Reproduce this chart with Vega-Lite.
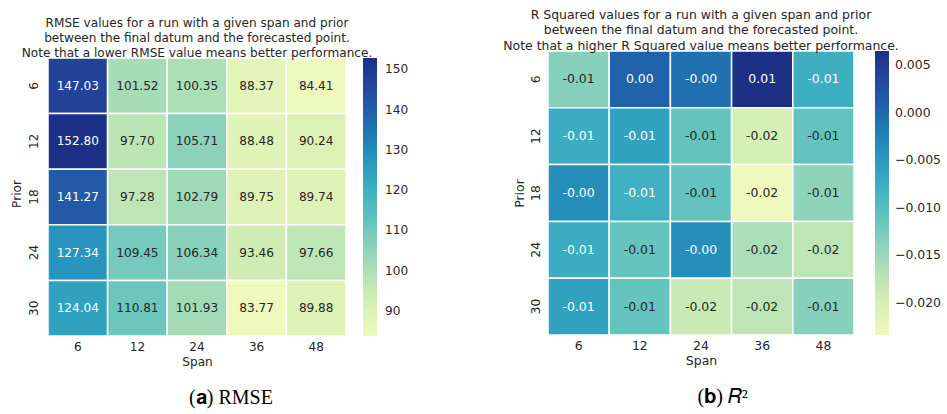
{
  "$schema": "https://vega.github.io/schema/vega-lite/v6.json",
  "padding": {"left": 10, "top": 8, "right": 5, "bottom": 5},
  "background": "white",
  "config": {
    "font": "DejaVu Sans",
    "view": {"stroke": null},
    "axis": {"domain": false, "ticks": false, "tickSize": 0, "labelFontSize": 12.1, "titleFontSize": 12.1, "labelColor": "#262626", "titleColor": "#262626", "titleFontWeight": "normal", "labelFont": "DejaVu Sans", "titleFont": "DejaVu Sans"},
    "legend": {"labelFontSize": 12.1, "labelColor": "#262626", "labelFont": "DejaVu Sans"},
    "concat": {"spacing": 87}
  },
  "resolve": {"scale": {"color": "independent"}, "legend": {"color": "independent"}},
  "datasets": {
    "rmse": [
      {"Prior": 6, "Span": 6, "value": 147.03}, {"Prior": 6, "Span": 12, "value": 101.52}, {"Prior": 6, "Span": 24, "value": 100.35}, {"Prior": 6, "Span": 36, "value": 88.37}, {"Prior": 6, "Span": 48, "value": 84.41},
      {"Prior": 12, "Span": 6, "value": 152.80}, {"Prior": 12, "Span": 12, "value": 97.70}, {"Prior": 12, "Span": 24, "value": 105.71}, {"Prior": 12, "Span": 36, "value": 88.48}, {"Prior": 12, "Span": 48, "value": 90.24},
      {"Prior": 18, "Span": 6, "value": 141.27}, {"Prior": 18, "Span": 12, "value": 97.28}, {"Prior": 18, "Span": 24, "value": 102.79}, {"Prior": 18, "Span": 36, "value": 89.75}, {"Prior": 18, "Span": 48, "value": 89.74},
      {"Prior": 24, "Span": 6, "value": 127.34}, {"Prior": 24, "Span": 12, "value": 109.45}, {"Prior": 24, "Span": 24, "value": 106.34}, {"Prior": 24, "Span": 36, "value": 93.46}, {"Prior": 24, "Span": 48, "value": 97.66},
      {"Prior": 30, "Span": 6, "value": 124.04}, {"Prior": 30, "Span": 12, "value": 110.81}, {"Prior": 30, "Span": 24, "value": 101.93}, {"Prior": 30, "Span": 36, "value": 83.77}, {"Prior": 30, "Span": 48, "value": 89.88}
    ],
    "r2": [
      {"Prior": 6, "Span": 6, "value": -0.0135, "label": "-0.01"}, {"Prior": 6, "Span": 12, "value": 0.0005, "label": "0.00"}, {"Prior": 6, "Span": 24, "value": -0.0008, "label": "-0.00"}, {"Prior": 6, "Span": 36, "value": 0.0065, "label": "0.01"}, {"Prior": 6, "Span": 48, "value": -0.0076, "label": "-0.01"},
      {"Prior": 12, "Span": 6, "value": -0.0073, "label": "-0.01"}, {"Prior": 12, "Span": 12, "value": -0.0061, "label": "-0.01"}, {"Prior": 12, "Span": 24, "value": -0.0111, "label": "-0.01"}, {"Prior": 12, "Span": 36, "value": -0.0198, "label": "-0.02"}, {"Prior": 12, "Span": 48, "value": -0.0110, "label": "-0.01"},
      {"Prior": 18, "Span": 6, "value": -0.0037, "label": "-0.00"}, {"Prior": 18, "Span": 12, "value": -0.0079, "label": "-0.01"}, {"Prior": 18, "Span": 24, "value": -0.0110, "label": "-0.01"}, {"Prior": 18, "Span": 36, "value": -0.0234, "label": "-0.02"}, {"Prior": 18, "Span": 48, "value": -0.0141, "label": "-0.01"},
      {"Prior": 24, "Span": 6, "value": -0.0073, "label": "-0.01"}, {"Prior": 24, "Span": 12, "value": -0.0112, "label": "-0.01"}, {"Prior": 24, "Span": 24, "value": -0.0037, "label": "-0.00"}, {"Prior": 24, "Span": 36, "value": -0.0162, "label": "-0.02"}, {"Prior": 24, "Span": 48, "value": -0.0174, "label": "-0.02"},
      {"Prior": 30, "Span": 6, "value": -0.0061, "label": "-0.01"}, {"Prior": 30, "Span": 12, "value": -0.0112, "label": "-0.01"}, {"Prior": 30, "Span": 24, "value": -0.0186, "label": "-0.02"}, {"Prior": 30, "Span": 36, "value": -0.0174, "label": "-0.02"}, {"Prior": 30, "Span": 48, "value": -0.0135, "label": "-0.01"}
    ]
  },
  "hconcat": [
    {
      "title": {"text": "(𝐚) RMSE", "orient": "bottom", "anchor": "middle", "font": "Liberation Serif", "fontSize": 20, "fontWeight": "normal", "color": "#000000", "offset": 21, "dx": 18},
      "vconcat": [
        {
          "width": 298,
          "height": 285,
          "data": {"name": "rmse"},
          "title": {"text": ".", "fontSize": 6, "color": "#ffffff", "subtitle": ["RMSE values for a run with a given span and prior", "between the final datum and the forecasted point.", "Note that a lower RMSE value means better performance."], "subtitleFontSize": 12.1, "subtitleFont": "DejaVu Sans", "subtitleColor": "#262626", "subtitleLineHeight": 15, "subtitlePadding": 2, "frame": "group", "anchor": "middle", "offset": -8},
          "encoding": {
            "x": {"field": "Span", "type": "ordinal", "title": "Span", "axis": {"labelAngle": 0, "labelPadding": 4, "titlePadding": 3}},
            "y": {"field": "Prior", "type": "ordinal", "title": "Prior", "scale": {"paddingInner": 0, "paddingOuter": 0.063, "align": 1}, "axis": {"labelAngle": -90, "labelPadding": 8, "titlePadding": 4}}
          },
          "layer": [
            {
              "mark": {"type": "rect", "stroke": "white", "strokeWidth": 1.5},
              "encoding": {
                "color": {"field": "value", "type": "quantitative", "scale": {"scheme": "yellowgreenblue", "domain": [83.77, 152.8]}, "legend": {"title": null, "gradientLength": 278, "gradientThickness": 14, "offset": -17, "padding": 7, "values": [90, 100, 110, 120, 130, 140, 150], "labelOffset": 8, "gradientStrokeWidth": 0}}
              }
            },
            {
              "mark": {"type": "text", "fontSize": 12.1},
              "encoding": {
                "text": {"field": "value", "type": "quantitative", "format": ".2f"},
                "color": {"condition": {"test": "datum.value > 118", "value": "#ffffff"}, "value": "#262626"}
              }
            }
          ]
        }
      ]
    },
    {
      "title": {"text": "(𝐛) 𝑅²", "orient": "bottom", "anchor": "middle", "font": "Liberation Serif", "fontSize": 20, "fontWeight": "normal", "color": "#000000", "offset": 20, "dx": 0},
      "vconcat": [
        {
          "width": 306,
          "height": 284,
          "data": {"name": "r2"},
          "title": {"text": ["R Squared values for a run with a given span and prior", "between the final datum and the forecasted point.", "Note that a higher R Squared value means better performance."], "fontSize": 12.45, "fontWeight": "normal", "color": "#262626", "frame": "group", "anchor": "middle", "lineHeight": 15.5, "offset": -2},
          "encoding": {
            "x": {"field": "Span", "type": "ordinal", "title": "Span", "axis": {"labelAngle": 0, "labelPadding": 4, "titlePadding": 3, "labelFontSize": 12.45, "titleFontSize": 12.45}},
            "y": {"field": "Prior", "type": "ordinal", "title": "Prior", "axis": {"labelAngle": -90, "labelPadding": 6, "titlePadding": 3, "labelFontSize": 12.45, "titleFontSize": 12.45}}
          },
          "layer": [
            {
              "mark": {"type": "rect", "stroke": "white", "strokeWidth": 1.5},
              "encoding": {
                "color": {"field": "value", "type": "quantitative", "scale": {"scheme": "yellowgreenblue", "domain": [-0.0234, 0.0065]}, "legend": {"title": null, "gradientLength": 284, "gradientThickness": 14, "offset": -24, "values": [-0.02, -0.015, -0.01, -0.005, 0, 0.005], "format": ".3f", "labelOffset": 6, "labelFontSize": 12.45, "gradientStrokeWidth": 0}}
              }
            },
            {
              "mark": {"type": "text", "fontSize": 12.45},
              "encoding": {
                "text": {"field": "label", "type": "nominal"},
                "color": {"condition": {"test": "datum.value > -0.009", "value": "#ffffff"}, "value": "#262626"}
              }
            }
          ]
        }
      ]
    }
  ]
}
